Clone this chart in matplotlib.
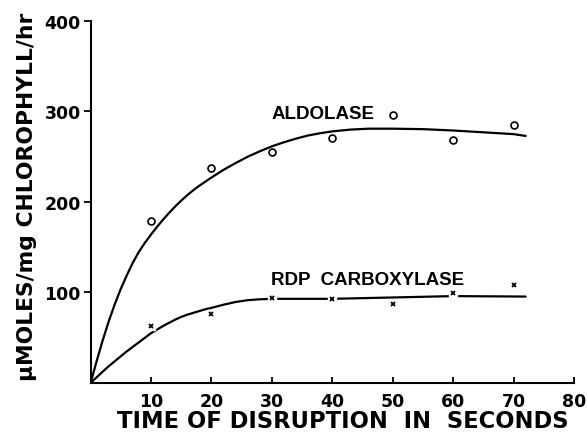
import matplotlib.pyplot as plt

plt.rcParams['font.family'] = 'DejaVu Sans'
plt.rcParams['font.weight'] = 'bold'

# measured points
t_pts = [10, 20, 30, 40, 50, 60, 70]
aldolase = [179, 238, 255, 271, 296, 268, 285]
rdp = [63, 76, 94, 93, 87, 99, 108]

# hand drawn fitted curves
ald_t = [0, 1, 2, 3, 4, 5, 6, 7, 8, 9, 10, 11, 12, 13, 14, 15, 16, 17, 18, 19, 20,
         22, 24, 26, 28, 30, 32, 34, 36, 38, 40, 43, 46, 50, 55, 60, 65, 70, 72]
ald_y = [0, 24, 47, 68, 87, 104, 119, 133, 145, 155, 164, 172.5, 180.5, 188, 195, 201.5, 207.5, 213, 218, 222.5, 227,
         235.5, 243, 250, 256, 261.5, 266, 270, 273.5, 276, 278, 280, 281, 281, 280.5, 279, 277, 275, 273]
rdp_t = [0, 1, 2, 3, 4, 5, 6, 7, 8, 9, 10, 11, 12, 13, 14, 15, 16, 17, 18, 19, 20,
         22, 24, 26, 28, 30, 40, 50, 60, 72]
rdp_y = [0, 6.3, 12.5, 18.5, 24, 29.5, 35, 40, 45, 50, 55, 59, 63, 66.5, 70, 73, 75.5, 77.5, 79.5, 81.5, 83,
         86.5, 89.5, 91.5, 92.5, 93, 93, 94.5, 96, 95.5]

fig = plt.figure(figsize=(5.87, 4.39), dpi=100)
ax = fig.add_axes([0.1543, 0.1253, 0.8235, 0.8246])

ax.plot(ald_t, ald_y, color='black', lw=1.6, solid_capstyle='round', solid_joinstyle='round')
ax.plot(rdp_t, rdp_y, color='black', lw=1.6, solid_capstyle='round', solid_joinstyle='round')

ax.plot(t_pts, aldolase, 'o', mfc='white', mec='black', ms=5, mew=1.2, zorder=3)
# white patch behind crosses gives the little gaps in the line
ax.plot(t_pts, rdp, 's', color='white', ms=6, zorder=3)
ax.plot(t_pts, rdp, 'x', color='black', ms=3.5, mew=1.3, zorder=4)

ax.text(29.9, 298, 'ALDOLASE', fontsize=13.5, fontweight='bold', va='center', ha='left',
        family='Liberation Sans')
ax.text(29.8, 114, 'RDP  CARBOXYLASE', fontsize=13.5, fontweight='bold', va='center', ha='left',
        family='Liberation Sans')

ax.set_xlim(0, 80)
ax.set_ylim(0, 400)
ax.set_xticks(range(10, 81, 10))
ax.set_yticks([100, 200, 300, 400])
ax.tick_params(axis='x', direction='in', length=4, width=1.3, pad=6.5, labelsize=12.5)
ax.tick_params(axis='y', direction='out', length=5, width=1.3, pad=2, labelsize=12.5)
for lab in ax.get_xticklabels() + ax.get_yticklabels():
    lab.set_fontweight('bold')

for s in ['top', 'right']:
    ax.spines[s].set_visible(False)
for s in ['left', 'bottom']:
    ax.spines[s].set_linewidth(1.5)

fig.text(0.5835, 0.0394, 'TIME OF DISRUPTION  IN  SECONDS', fontsize=16.3, fontweight='bold',
         ha='center', va='center')
fig.text(0.046, 0.552, 'µMOLES/mg CHLOROPHYLL/hr', fontsize=15.7, fontweight='bold',
         ha='center', va='center', rotation=90)

fig.savefig('out.png', dpi=100)
